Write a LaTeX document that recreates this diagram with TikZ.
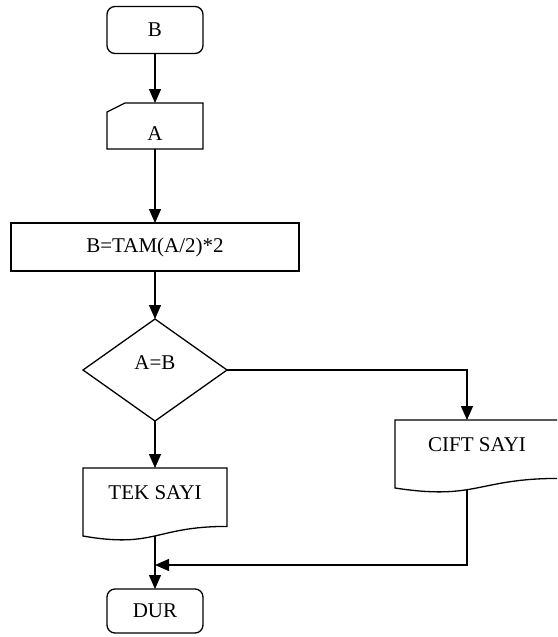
\documentclass[tikz,border=0pt]{standalone}
\usepackage{fontspec}
\setmainfont{Liberation Serif}
\usetikzlibrary{shapes.geometric,arrows.meta,calc}
\begin{document}
\begin{tikzpicture}[x=1pt,y=-1pt,line width=1.3pt,
    every node/.style={font=\fontsize{21pt}{25pt}\selectfont,outer sep=0pt},
    term node/.style={rectangle,rounded corners=8pt,draw,minimum width=96pt,inner sep=0pt},
    input node/.style={rectangle,minimum width=96pt,inner xsep=0pt,inner ysep=2pt,text height=35pt,text depth=7pt},
    proc node/.style={rectangle,draw,minimum width=288pt,minimum height=48pt,inner sep=0pt},
    test node/.style={diamond,draw,minimum width=144pt,minimum height=102pt,inner sep=0pt,text height=6pt,text depth=8pt},
    doc node/.style={rectangle,inner xsep=0pt,inner ysep=16pt,text height=15pt,text depth=21pt},
    flow/.style={-{Triangle[length=14pt,width=12pt]}}]
\useasboundingbox (0,0) rectangle (557,637);
\clip (0,0) rectangle (557,637);

\node[term node,minimum height=47pt] (start) at (155,30) {B};
\node[input node] (a) at (155,126) {A};
\draw (a.south west) -- ($(a.north west)+(0,9)$) -- ($(a.north west)+(18,0)$) -- (a.north east) -- (a.south east) -- cycle;
\node[proc node] (calc) at (155,247) {B=TAM(A/2)*2};
\node[test node] (test) at (155,370) {A=B};

\node[doc node,minimum width=144pt] (tek) at (155,502) {TEK SAYI};
\draw (tek.north west) -- (tek.north east) -- ($(tek.north east)+(0,58.4)$)
    .. controls ($(tek.north)+(0,58.4)$) and ($(tek.north)+(0,80.6)$) .. (tek.south west) -- cycle;
\node[doc node,minimum width=164pt] (cift) at (477,454) {CIFT SAYI};
\draw (cift.north west) -- (cift.north east) -- ($(cift.north east)+(0,58.4)$)
    .. controls ($(cift.north)+(0,58.4)$) and ($(cift.north)+(0,80.6)$) .. (cift.south west) -- cycle;

\node[term node,minimum height=44pt] (stop) at (155,611) {DUR};
\coordinate (join) at (155,565);

\draw[flow] (start) -- (a);
\draw[flow] (a) -- (calc);
\draw[flow] (calc) -- (test);
\draw[flow] (test) -- (tek);
\draw[flow] (test.east) -| ([xshift=-10pt]cift.north);
\draw[flow] (tek) -- (stop);
\draw[flow] ([xshift=-10pt,yshift=-2pt]cift.south) |- (join);
\end{tikzpicture}
\end{document}
